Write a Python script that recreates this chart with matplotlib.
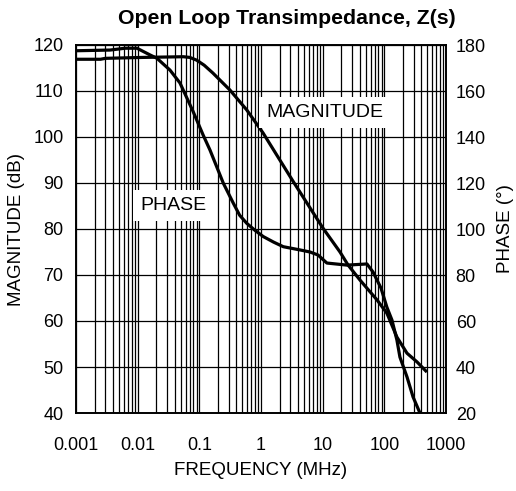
import numpy as np
import matplotlib
matplotlib.use("Agg")
import matplotlib.pyplot as plt

plt.rcParams['font.family'] = ['Liberation Sans', 'DejaVu Sans']

# magnitude curve (MHz, dB)
mag_freq = [0.001, 0.0025, 0.003, 0.012, 0.055, 0.07, 0.0906, 0.12, 0.166,
            0.314, 0.586, 1.077, 3.3, 10.1, 19.1, 25.7, 40.3, 75.9, 110,
            160, 233, 339, 490]
mag_db = [116.9, 116.9, 117.1, 117.3, 117.45, 117.3, 116.7, 115.6, 113.9,
          110.2, 105.9, 100.9, 90.4, 80.2, 75.0, 72.2, 68.9, 64.6, 61.7,
          56.5, 53.0, 51.1, 48.9]

# phase curve (MHz, degrees)
ph_freq = [0.001, 0.00356, 0.00624, 0.00975, 0.0158, 0.0206, 0.0334, 0.0485,
           0.0789, 0.1146, 0.149, 0.245, 0.356, 0.45, 0.586, 0.8, 1.09, 1.6,
           2.30, 4.29, 6.23, 8.4, 11.7, 24.8, 52.3, 65.5, 88.3, 110, 133, 160,
           179, 233, 292, 378]
ph_deg = [177.5, 177.8, 178.6, 178.6, 175.7, 174.2, 169.1, 163.5, 151.2,
          141.0, 134.3, 119.9, 111.2, 106.0, 102.5, 99.4, 96.7, 94.3, 92.3,
          90.9, 90.0, 88.7, 85.2, 84.3, 84.8, 81.3, 74.3, 66.0, 60.4, 51.7,
          44.3, 35.7, 27.0, 20.0]

freq_ticks = [0.001, 0.01, 0.1, 1, 10, 100, 1000]
freq_labels = ['0.001', '0.01', '0.1', '1', '10', '100', '1000']
mag_ticks = list(range(40, 121, 10))
ph_ticks = list(range(20, 181, 20))

fig = plt.figure(figsize=(5.16, 4.91), dpi=100)
ax = fig.add_axes([76/516, 1 - 413/491, 370/516, 368/491])
ax.set_xscale('log')
ax.set_xlim(0.001, 1000)
ax.set_ylim(40, 120)
ax.set_xticks(freq_ticks, freq_labels)
ax.set_yticks(mag_ticks)
ax.grid(which='both', axis='x', color='black', lw=0.9)
ax.grid(which='major', axis='y', color='black', lw=0.9)
ax.tick_params(which='both', length=0, labelsize=13)
ax.tick_params(axis='x', pad=17)
ax.tick_params(axis='y', pad=9)
for s in ax.spines.values():
    s.set_linewidth(1.2)

ax.plot(mag_freq, mag_db, color='black', lw=2.3, solid_capstyle='butt')

ax2 = ax.twinx()
ax2.set_ylim(20, 180)
ax2.set_yticks(ph_ticks)
ax2.tick_params(length=0, labelsize=13, pad=7)
ax2.plot(ph_freq, ph_deg, color='black', lw=2.3, solid_capstyle='butt')
for s in ax2.spines.values():
    s.set_linewidth(1.2)

box = dict(facecolor='white', edgecolor='none', pad=5)
ax2.text(10.9, 150.7, 'MAGNITUDE', fontsize=14, ha='center', va='center', bbox=box, zorder=5)
ax2.text(0.038, 110.4, 'PHASE', fontsize=14, ha='center', va='center', bbox=box, zorder=5)

ax.set_xlabel('FREQUENCY (MHz)', fontsize=13.5)
ax.set_ylabel('MAGNITUDE (dB)', fontsize=13.5)
ax2.set_ylabel('PHASE (°)', fontsize=13.5)
ax.xaxis.set_label_coords(0.5, -0.133)
ax.yaxis.set_label_coords(-0.138, 0.5)
ax2.yaxis.set_label_coords(1.138, 0.5)

fig.text(287/516, 1 - 18/491, 'Open Loop Transimpedance, Z(s)', fontsize=15.3,
         fontweight='bold', ha='center', va='center')

fig.savefig('out.png', dpi=100)
